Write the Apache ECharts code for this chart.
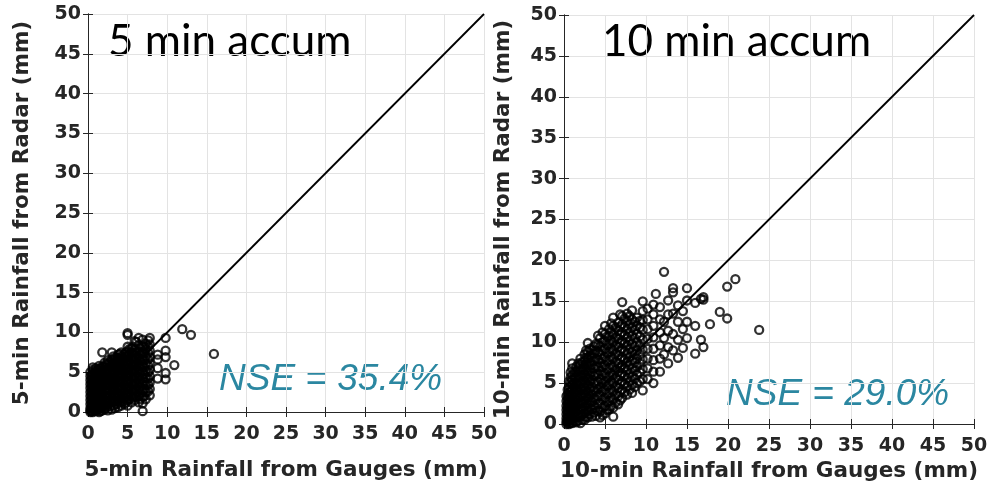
<!DOCTYPE html>
<html><head><meta charset="utf-8">
<script src="https://cdn.jsdelivr.net/npm/echarts@6/dist/echarts.min.js"></script>
<style>html,body{margin:0;padding:0;background:#fff}#c{width:988px;height:486px}</style>
</head><body><div id="c"></div>
<script>
// ---- Data ----
const axisTicks = [0,5,10,15,20,25,30,35,40,45,50];
const titles = ["5 min accum", "10 min accum"];
const nseLabels = ["NSE = 35.4%", "NSE = 29.0%"];
const xNames = ["5-min Rainfall from Gauges (mm)", "10-min Rainfall from Gauges (mm)"];
const yNames = ["5-min Rainfall from Radar (mm)", "10-min Rainfall from Radar (mm)"];

// 5-min: gauge values and the radar values observed at each gauge value
const gauge5 = [0.3,0.6,1.0,1.4,1.8,2.1,2.5,3.0,3.4,3.8,4.2,4.6,5.0,5.5,5.9,6.4,6.9,7.3,7.8,8.8,9.8,10.9,11.9,13.0,15.9];
const radar5 = [
  [0,0.2,0.5,1,1.5,2,2.5,3,3.5,4,4.5,5],
  [0,0.3,0.8,1.3,1.8,2.3,2.8,3.3,3.8,4.3,4.8,5.3,5.6],
  [0.1,0.5,1,1.5,2,2.5,3,3.5,4,4.5,5,5.5],
  [0,0.4,0.9,1.4,1.9,2.4,2.9,3.4,3.9,4.4,4.9,5.4,5.8],
  [0.2,0.7,1.2,1.7,2.2,2.7,3.2,3.7,4.2,4.7,5.2,5.7,7.5],
  [0.3,0.8,1.5,2.1,2.7,3.3,3.9,4.5,5.1,5.7,6.2],
  [0.2,1,1.7,2.4,3,3.6,4.2,4.8,5.4,6,6.5],
  [0.3,1.1,1.8,2.5,3.2,3.9,4.6,5.3,6,6.6,7.5],
  [0.5,1.3,2,2.7,3.4,4.1,4.8,5.5,6.2,6.8],
  [0.6,1.4,2.2,3,3.8,4.6,5.4,6.1,6.8,7.2],
  [0.8,1.6,2.4,3.2,4,4.8,5.6,6.4,7,7.5],
  [1,1.8,2.6,3.4,4.2,5,5.8,6.6,7.3],
  [0.8,1.5,2.3,3.1,3.9,4.7,5.5,6.3,7,7.6,8.2,9.7,9.9],
  [1.2,2,2.8,3.6,4.4,5.2,6,6.8,7.5,8],
  [1.5,2.3,3.1,3.9,4.7,5.5,6.3,7.1,7.8,8.9],
  [1.2,2,2.8,3.6,4.4,5.2,6,6.8,7.6,8.4,9.3],
  [0.1,1.1,1.9,2.7,3.5,4.3,5.1,5.9,6.7,7.5,8.3,9.1],
  [1.6,2.5,3.4,4.3,5.2,6.1,7,7.9,8.6],
  [2.1,2.9,3.7,4.5,5.3,6.1,6.9,7.7,8.5,9.3],
  [4.2,5.5,6.6,7.2],
  [4.1,4.9,6.9,7.7,9.3],
  [5.9],
  [10.4],
  [9.7],
  [7.3]
];
// further 5-min gauge columns inside the dense core
const gauge5Core = [0.45,0.8,1.2,1.6,2.3,2.8,3.2,3.6,4.0,4.4,4.8,5.2,5.7,6.1,6.6,7.1,7.6];
const radar5Core = [
  [0.1,0.6,1.1,1.6,2.1,2.6,3.1,3.6,4.1,4.6],
  [0.2,0.7,1.2,1.7,2.2,2.7,3.2,3.7,4.2,4.7,5.1],
  [0.3,0.8,1.3,1.8,2.3,2.8,3.3,3.8,4.3,4.8,5.3],
  [0.1,0.6,1.1,1.6,2.1,2.6,3.1,3.6,4.1,4.6,5.1,5.5],
  [0.6,1.2,1.8,2.4,3,3.6,4.2,4.8,5.4,6],
  [0.7,1.4,2.1,2.8,3.5,4.2,4.9,5.6,6.3],
  [0.8,1.5,2.2,2.9,3.6,4.3,5,5.7,6.4,7],
  [1,1.7,2.4,3.1,3.8,4.5,5.2,5.9,6.5],
  [1.2,2,2.8,3.6,4.4,5.2,6,6.7,7.3],
  [1.3,2.1,2.9,3.7,4.5,5.3,6.1,6.8],
  [1.2,2,2.8,3.6,4.4,5.2,6,6.8,7.5],
  [1.6,2.4,3.2,4,4.8,5.6,6.4,7.2,7.9],
  [1.8,2.6,3.4,4.2,5,5.8,6.6,7.4,8.2],
  [1.9,2.7,3.5,4.3,5.1,5.9,6.7,7.5,8.8],
  [1.6,2.4,3.2,4,4.8,5.6,6.4,7.2,8],
  [2,2.9,3.8,4.7,5.6,6.5,7.4,8.2],
  [2.6,3.4,4.2,5,5.8,6.6,7.4,8.2,9]
];

// 10-min
const gauge10 = [0.3,0.6,1.0,1.5,2.0,2.5,2.9,3.4,3.9,4.4,5.0,5.5,6.0,6.6,7.1,7.7,8.3,8.9,9.6,10.2,10.9,11.2,11.7,12.2,12.7,13.3,13.9,14.5,15.0,16.0,16.7,17.0,17.8,19.0,19.9,20.9,23.8];
const radar10 = [
  [0,0.3,0.7,1.2,1.7,2.2,2.8,3.4],
  [0,0.4,0.9,1.5,2.1,2.7,3.3,3.9,4.5,5.2],
  [0.1,0.6,1.2,1.8,2.4,3,3.6,4.2,4.8,5.4,6,6.8,7.4],
  [0.2,0.8,1.5,2.2,2.9,3.6,4.3,5,5.7,6.4,7],
  [0.1,0.9,1.7,2.5,3.3,4.1,4.9,5.7,6.5,7.3,8],
  [0.5,1.3,2.1,2.9,3.7,4.5,5.3,6.1,6.9,7.7,8.5],
  [0.8,1.6,2.4,3.2,4,4.8,5.6,6.4,7.2,8,8.8,9.9],
  [0.9,1.8,2.7,3.6,4.5,5.4,6.3,7.2,8.1,9],
  [1,2,3,4,5,6,7,8,9,9.8],
  [0.8,1.5,2.5,3.5,4.5,5.5,6.5,7.5,8.5,9.5,10.5],
  [1.3,2.2,3.2,4.2,5.2,6.2,7.2,8.2,9.2,10.2,11,12],
  [1.8,2.8,3.8,4.8,5.8,6.8,7.8,8.8,9.8,10.8,11.6],
  [0.9,2,3,4,5,6,7,8,9,10,11,12,13],
  [2.4,3.4,4.4,5.4,6.4,7.4,8.4,9.4,10.4,11.4,12.4],
  [3.2,4.2,5.2,6.2,7.2,8.2,9.2,10.2,11.2,12.2,13.2,14.9],
  [3.6,4.6,5.6,6.6,7.6,8.6,9.6,10.6,11.6,12.6,13.5],
  [3.8,4.8,5.8,6.8,7.8,8.8,9.8,10.8,11.8,12.8,13.9],
  [5,6,7,8,9,10,11,12,13],
  [4.1,5.5,6.7,7.9,9.1,10.3,11.5,12.7,13.8,15],
  [5.5,6.8,8,9.2,10.4,11.6,12.8,14.1],
  [5,6.4,7.8,9.2,10.6,12,13.4,14.6],
  [15.9],
  [6.4,8,9.6,11.2,12.8,14.3],
  [18.6,8.5,10.5,12.5],
  [7.4,9.4,11.4,13.4,15.1],
  [16.6,16.1,9,11,13.5],
  [8.1,10.3,12.5,14.5],
  [9.3,11.6,13.8],
  [16.6,10.5,12.5,15.1],
  [8.6,12,14.8],
  [10.3,15.3],
  [9.4,15.5,15.2],
  [12.2],
  [13.7],
  [16.8,12.9],
  [17.7],
  [11.5]
];
// further 10-min gauge columns inside the dense core
const gauge10Core = [0.45,0.8,1.25,1.75,2.25,2.7,3.15,3.65,4.15,4.7,5.25,5.75,6.3,6.85,7.4,8.0,8.6,9.25];
const radar10Core = [
  [0.2,0.6,1,1.5,2,2.5,3,3.6,4.2],
  [0.1,0.5,1,1.5,2.1,2.7,3.3,3.9,4.5,5.1,5.7,6.3],
  [0.3,0.9,1.5,2.1,2.7,3.3,3.9,4.5,5.1,5.7,6.3],
  [0.4,1.1,1.8,2.5,3.2,3.9,4.6,5.3,6,6.7,7.4],
  [0.5,1.2,2,2.8,3.6,4.4,5.2,6,6.8,7.6],
  [0.9,1.7,2.5,3.3,4.1,4.9,5.7,6.5,7.3,8.1,9],
  [1.2,2,2.8,3.6,4.4,5.2,6,6.8,7.6,8.4,9.2],
  [1.4,2.3,3.2,4.1,5,5.9,6.8,7.7,8.6,9.5],
  [1.6,2.5,3.4,4.3,5.2,6.1,7,7.9,8.8,9.7,10.8],
  [1.1,2,3,4,5,6,7,8,9,10,11.2],
  [1.7,2.7,3.7,4.7,5.7,6.7,7.7,8.7,9.7,10.7],
  [2.2,3.2,4.2,5.2,6.2,7.2,8.2,9.2,10.2,11.2,12.3],
  [2.6,3.6,4.6,5.6,6.6,7.6,8.6,9.6,10.6,11.8],
  [2.9,3.9,4.9,5.9,6.9,7.9,8.9,9.9,10.9,11.9,13.4],
  [3.9,4.9,5.9,6.9,7.9,8.9,9.9,10.9,11.9,12.9],
  [4.2,5.2,6.2,7.2,8.2,9.2,10.2,11.2,12.2,13.2],
  [4.5,5.5,6.5,7.5,8.5,9.5,10.5,11.5,12.5],
  [5.2,6.3,7.4,8.5,9.6,10.7,11.8,12.6]
];

const oneToOne = [[0,0],[50,50]];

// ---- Build ----
function pairs(gs, rs){ const out=[]; gs.forEach((g,i)=>rs[i].forEach(r=>out.push([g,r]))); return out; }

const grids = [
  {left:88, top:14, width:396, height:398, containLabel:false, outerBoundsMode:'none'},
  {left:564, top:15, width:410, height:409, containLabel:false, outerBoundsMode:'none'}
];
const txt = '#262626';
const tickFont = {fontFamily:'DejaVu Sans', fontWeight:'bold', fontSize:19, color:txt};
const nameFont = {fontFamily:'DejaVu Sans', fontWeight:'bold', fontSize:21.5, color:txt};

function xAxes(i){
  return [{
    type:'value', gridIndex:i, min:0, max:50, interval:5, position:'bottom',
    name:xNames[i], nameLocation:'middle', nameGap: i===0?47:34,
    nameTextStyle:nameFont,
    axisLine:{show:true, lineStyle:{color:txt, width:1}},
    axisTick:{show:true, inside:true, length:5, lineStyle:{color:txt}},
    axisLabel:Object.assign({margin:13}, tickFont),
    splitLine:{show:true, lineStyle:{color:'#e3e3e3', width:1}}
  },{
    type:'value', gridIndex:i, min:0, max:50, interval:5, position:'top',
    axisLine:{show:true, lineStyle:{color:txt, width:1}},
    axisTick:{show:true, inside:true, length:5, lineStyle:{color:txt}},
    axisLabel:{show:false}, splitLine:{show:false}
  }];
}
function yAxes(i){
  return [{
    type:'value', gridIndex:i, min:0, max:50, interval:5, position:'left',
    name:yNames[i], nameLocation:'middle', nameGap: i===0?55:50, nameRotate:90,
    nameTextStyle:nameFont,
    axisLine:{show:true, lineStyle:{color:txt, width:1}},
    axisTick:{show:true, inside:true, length:5, lineStyle:{color:txt}},
    axisLabel:Object.assign({margin:7}, tickFont),
    splitLine:{show:true, lineStyle:{color:'#e3e3e3', width:1}}
  },{
    type:'value', gridIndex:i, min:0, max:50, interval:5, position:'right',
    axisLine:{show:true, lineStyle:{color:txt, width:1}},
    axisTick:{show:true, inside:true, length:5, lineStyle:{color:txt}},
    axisLabel:{show:false}, splitLine:{show:false}
  }];
}

const scatterStyle = {color:'rgba(0,0,0,0)', borderColor:'#000', borderWidth:2.3};
const panels = [
  pairs(gauge5, radar5).concat(pairs(gauge5Core, radar5Core)),
  pairs(gauge10, radar10).concat(pairs(gauge10Core, radar10Core))
];
const series = [];
panels.forEach((pts,i)=>{
  series.push({type:'line', xAxisIndex:i*2, yAxisIndex:i*2, data:oneToOne, symbol:'none',
    lineStyle:{color:'#000', width:1.8}, silent:true, animation:false, z:3});
  series.push({type:'scatter', xAxisIndex:i*2, yAxisIndex:i*2, data:pts,
    symbol:'circle', symbolSize:8, itemStyle:scatterStyle, animation:false, z:4});
});

const chart = echarts.init(document.getElementById('c'), null, {renderer:'canvas'});
chart.setOption({
  backgroundColor:'#fff',
  animation:false,
  grid:grids,
  xAxis:[...xAxes(0), ...xAxes(1)],
  yAxis:[...yAxes(0), ...yAxes(1)],
  series:series,
  graphic:[
    {type:'text', left:108, top:20, style:{text:titles[0], font:'44px Lato', fill:'#000'}},
    {type:'text', left:602, top:20, style:{text:titles[1], font:'44px Lato', fill:'#000'}},
    {type:'text', left:219, top:361, style:{text:nseLabels[0], font:'italic 37px "Liberation Sans"', fill:'#2b87a1'}},
    {type:'text', left:726, top:376, style:{text:nseLabels[1], font:'italic 37px "Liberation Sans"', fill:'#2b87a1'}}
  ]
});
</script></body></html>
